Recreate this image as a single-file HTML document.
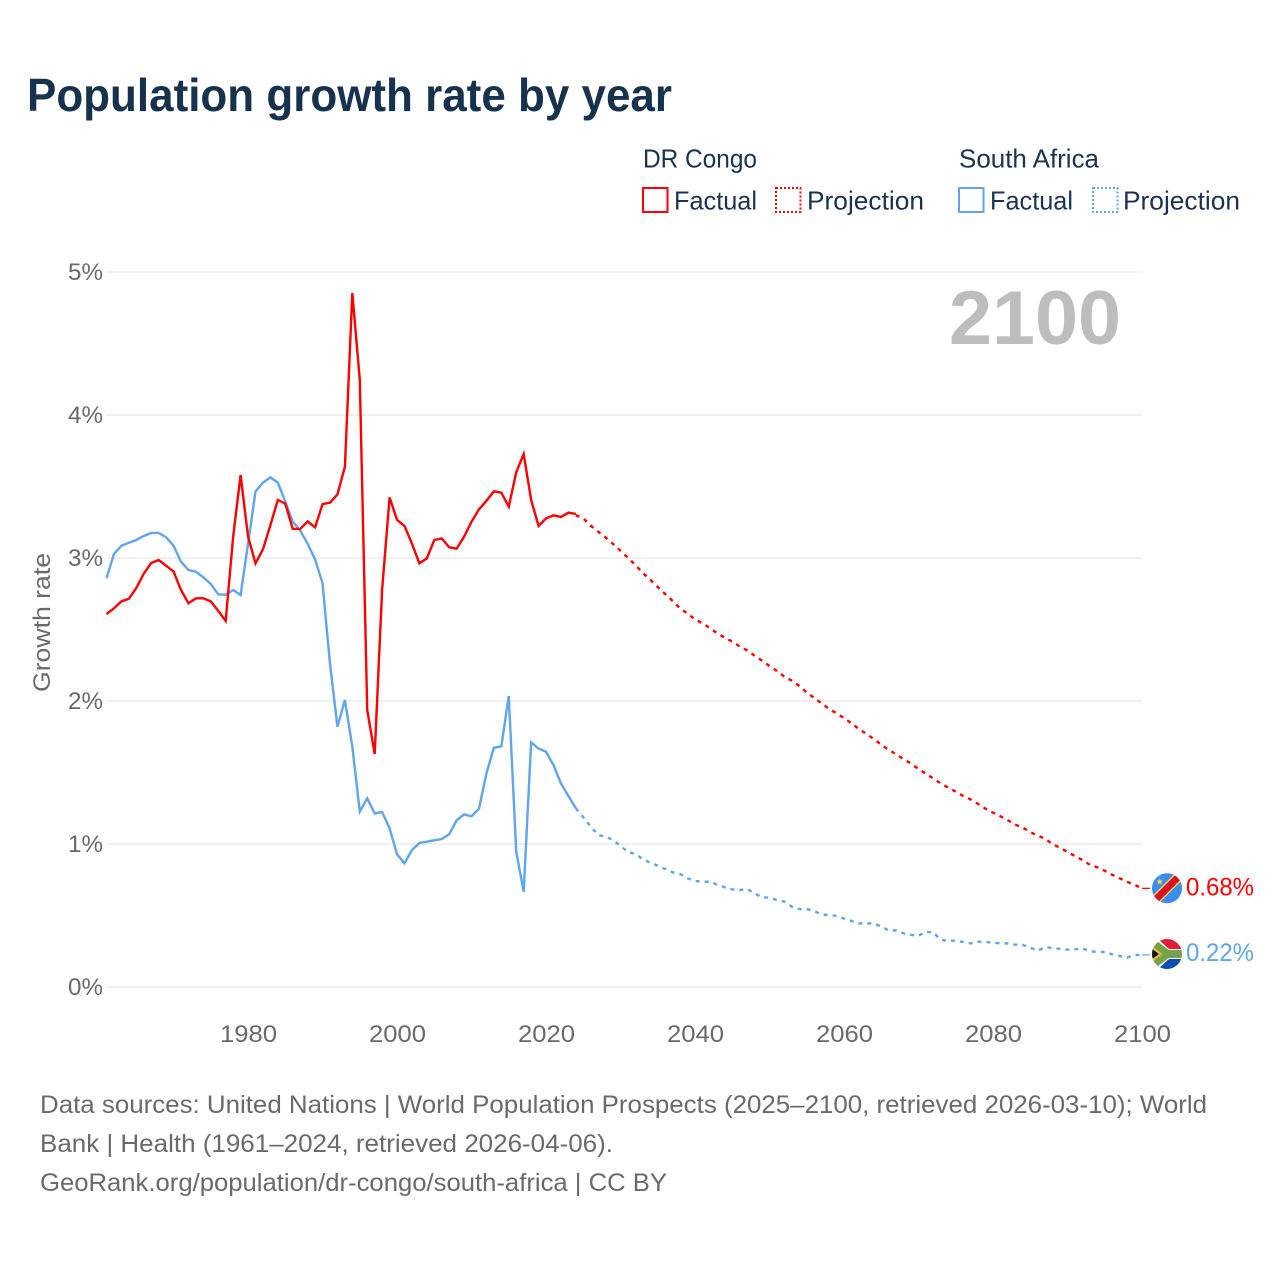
<!DOCTYPE html>
<html lang="en">
<head>
<meta charset="utf-8">
<title>Population growth rate by year</title>
<style>
  html, body { margin: 0; padding: 0; background: #fff; }
  svg { display: block; font-family: "Liberation Sans", sans-serif; }
</style>
</head>
<body>
<svg id="chart" xmlns="http://www.w3.org/2000/svg" width="1280" height="1280" viewBox="0 0 1280 1280">
  <defs>
    <clipPath id="flag-clip-drc"><circle cx="0" cy="0" r="15"/></clipPath>
    <clipPath id="flag-clip-za"><circle cx="0" cy="0" r="15"/></clipPath>
  </defs>
  <rect x="0" y="0" width="1280" height="1280" fill="#fff"/>

  <text x="27" y="111" font-size="46" font-weight="700" fill="#17324f" textLength="645" lengthAdjust="spacingAndGlyphs">Population growth rate by year</text>

  <g font-size="26" fill="#1a3353">
    <text x="643" y="167.5" textLength="114" lengthAdjust="spacingAndGlyphs">DR Congo</text>
    <text x="959" y="167.5" textLength="140" lengthAdjust="spacingAndGlyphs">South Africa</text>
    <g>
      <rect x="643" y="188" width="24.5" height="24" fill="none" stroke="#ff0000" stroke-width="2"/>
      <text x="674" y="209.5" textLength="83" lengthAdjust="spacingAndGlyphs">Factual</text>
    </g>
    <g>
      <rect x="776" y="188" width="24.5" height="24" fill="none" stroke="#ff0000" stroke-width="2" stroke-dasharray="2 2"/>
      <text x="807" y="209.5" textLength="117" lengthAdjust="spacingAndGlyphs">Projection</text>
    </g>
    <g>
      <rect x="959" y="188" width="24.5" height="24" fill="none" stroke="#5fa5ee" stroke-width="2"/>
      <text x="990" y="209.5" textLength="83" lengthAdjust="spacingAndGlyphs">Factual</text>
    </g>
    <g>
      <rect x="1093" y="188" width="24.5" height="24" fill="none" stroke="#5fa5ee" stroke-width="2" stroke-dasharray="2 2"/>
      <text x="1123" y="209.5" textLength="117" lengthAdjust="spacingAndGlyphs">Projection</text>
    </g>
  </g>

  <g id="grid"></g>
  <g id="y-ticks"></g>
  <g id="x-ticks"></g>

  <text transform="translate(50,692) rotate(-90)" font-size="24" fill="#6a6a6a" textLength="139" lengthAdjust="spacingAndGlyphs">Growth rate</text>

  <text x="949" y="344" font-size="76" font-weight="700" fill="#bdbdbd" textLength="172" lengthAdjust="spacingAndGlyphs">2100</text>

  <g id="series"></g>

  <g id="flag-drc">
    <g clip-path="url(#flag-clip-drc)">
      <rect x="-16" y="-16" width="32" height="32" fill="#3b8df2"/>
      <polygon points="-20,13 13,-20 20,-13 -13,20" fill="#f9d648"/>
      <polygon points="-20,15 15,-20 20,-15 -15,20" fill="#d9122b"/>
      <polygon points="-7.3,-10 -6.4,-7.6 -4,-7.6 -5.9,-6 -5.2,-3.6 -7.3,-5 -9.4,-3.6 -8.7,-6 -10.6,-7.6 -8.2,-7.6" fill="#f9d648"/>
    </g>
  </g>
  <g id="flag-za">
    <g clip-path="url(#flag-clip-za)">
      <rect x="-16" y="-16" width="32" height="16" fill="#e01b3c"/>
      <rect x="-16" y="0" width="32" height="16" fill="#0b4fb3"/>
      <polygon points="-16,-15 -9,-15 2,-5 16,-5 16,5 2,5 -9,15 -16,15" fill="#fff"/>
      <polygon points="-16,-13 -10,-13 1.5,-4 16,-4 16,4 1.5,4 -10,13 -16,13" fill="#76a34a"/>
      <polygon points="-16,-8.5 -4.5,0 -16,8.5" fill="#f7bd37"/>
      <polygon points="-16,-6 -8,0 -16,6" fill="#111"/>
    </g>
  </g>
  <text id="label-drc" x="1186" y="896" font-size="25" fill="#ff0000" textLength="68" lengthAdjust="spacingAndGlyphs"></text>
  <text id="label-za" x="1186" y="961" font-size="25" fill="#5fa5ee" textLength="68" lengthAdjust="spacingAndGlyphs"></text>

  <g font-size="25" fill="#6a6a6a">
    <text x="40" y="1113" textLength="1167" lengthAdjust="spacingAndGlyphs">Data sources: United Nations | World Population Prospects (2025–2100, retrieved 2026-03-10); World</text>
    <text x="40" y="1152" textLength="573" lengthAdjust="spacingAndGlyphs">Bank | Health (1961–2024, retrieved 2026-04-06).</text>
    <text x="40" y="1191" textLength="627" lengthAdjust="spacingAndGlyphs">GeoRank.org/population/dr-congo/south-africa | CC BY</text>
  </g>
</svg>

<script>
const factualStartYear = 1961;
const projectionStartYear = 2024;
const xTickYears = [1980, 2000, 2020, 2040, 2060, 2080, 2100];
const yTickValues = [0, 1, 2, 3, 4, 5];
const endValueDrc = 0.68;
const endValueZa = 0.22;

const drcFactual = [
  2.608,2.648,2.697,2.715,2.79,2.89,2.965,2.986,2.946,2.906,
  2.776,2.683,2.718,2.718,2.697,2.63,2.56,3.149,3.58,3.149,
  2.963,3.06,3.23,3.406,3.38,3.203,3.203,3.256,3.214,3.377,
  3.387,3.445,3.638,4.853,4.245,1.937,1.629,2.78,3.424,3.266,
  3.224,3.10,2.963,2.997,3.126,3.137,3.075,3.065,3.149,3.254,
  3.34,3.40,3.466,3.457,3.359,3.60,3.727,3.406,3.224,3.277,
  3.298,3.287,3.317,3.308
];
const drcProjection = [
  3.30,3.277,3.226,3.184,3.144,3.098,3.051,3.002,2.951,2.895,
  2.848,2.797,2.748,2.699,2.648,2.611,2.571,2.543,2.51,2.473,
  2.443,2.415,2.382,2.354,2.317,2.282,2.245,2.21,2.17,2.142,
  2.105,2.06,2.021,1.984,1.944,1.914,1.881,1.844,1.804,1.771,
  1.734,1.694,1.659,1.627,1.594,1.562,1.524,1.492,1.457,1.424,
  1.394,1.366,1.336,1.312,1.28,1.247,1.219,1.194,1.166,1.135,
  1.114,1.084,1.058,1.037,0.998,0.974,0.944,0.916,0.888,0.855,
  0.837,0.813,0.785,0.76,0.736,0.715,0.69
];
const zaFactual = [
  2.858,3.028,3.086,3.107,3.126,3.154,3.175,3.175,3.145,3.086,
  2.974,2.916,2.904,2.865,2.818,2.746,2.743,2.776,2.741,3.10,
  3.464,3.527,3.564,3.527,3.394,3.254,3.191,3.10,2.99,2.823,
  2.26,1.82,2.007,1.68,1.226,1.319,1.214,1.224,1.11,0.928,
  0.865,0.958,1.007,1.016,1.026,1.035,1.068,1.166,1.207,1.194,
  1.247,1.494,1.673,1.683,2.035,0.946,0.666,1.711,1.667,1.645,
  1.552,1.424,1.336,1.25
];
const zaProjection = [
  1.25,1.187,1.121,1.063,1.051,1.028,0.986,0.944,0.93,0.893,
  0.869,0.848,0.825,0.802,0.79,0.76,0.741,0.736,0.736,0.715,
  0.697,0.683,0.678,0.685,0.655,0.627,0.624,0.608,0.597,0.562,
  0.545,0.545,0.531,0.506,0.503,0.497,0.478,0.462,0.445,0.445,
  0.445,0.422,0.396,0.396,0.375,0.364,0.359,0.387,0.38,0.329,
  0.324,0.324,0.315,0.305,0.317,0.315,0.31,0.305,0.305,0.296,
  0.294,0.275,0.254,0.278,0.273,0.266,0.261,0.264,0.27,0.25,
  0.245,0.245,0.229,0.217,0.205,0.224,0.224
];

const SVG_NS = 'http://www.w3.org/2000/svg';
function xScale(year) { return 106.5 + (year - 1961) * (1142 - 106.5) / 139; }
function yScale(value) { return 987 - value * 143; }

function drawLine(values, startYear, color, dash, parent, name) {
  const line = document.createElementNS(SVG_NS, 'polyline');
  const pts = values.map(function (v, i) {
    return xScale(startYear + i).toFixed(2) + ',' + yScale(v).toFixed(2);
  });
  line.setAttribute('points', pts.join(' '));
  line.setAttribute('fill', 'none');
  line.setAttribute('stroke', color);
  line.setAttribute('stroke-width', '2.4');
  line.setAttribute('stroke-linejoin', 'miter');
  if (dash) line.setAttribute('stroke-dasharray', dash);
  
  
  parent.appendChild(line);
}

function drawLeader(value, color, parent, name) {
  const leader = document.createElementNS(SVG_NS, 'line');
  leader.setAttribute('x1', xScale(2100));
  leader.setAttribute('x2', xScale(2100) + 8);
  leader.setAttribute('y1', yScale(value));
  leader.setAttribute('y2', yScale(value));
  leader.setAttribute('stroke', color);
  leader.setAttribute('stroke-width', '1.2');
  
  
  parent.appendChild(leader);
}

const gridGroup = document.getElementById('grid');
const yTickGroup = document.getElementById('y-ticks');
const xTickGroup = document.getElementById('x-ticks');
const seriesGroup = document.getElementById('series');

yTickValues.forEach(function (v) {
  const gridLine = document.createElementNS(SVG_NS, 'line');
  gridLine.setAttribute('x1', xScale(1961));
  gridLine.setAttribute('x2', xScale(2100));
  gridLine.setAttribute('y1', yScale(v));
  gridLine.setAttribute('y2', yScale(v));
  gridLine.setAttribute('stroke', '#ececec');
  gridLine.setAttribute('stroke-width', '1.6');
  
  
  gridGroup.appendChild(gridLine);

  const label = document.createElementNS(SVG_NS, 'text');
  label.setAttribute('x', 103);
  label.setAttribute('y', yScale(v) + 8);
  label.setAttribute('text-anchor', 'end');
  label.setAttribute('font-size', '24');
  label.setAttribute('fill', '#6a6a6a');
  label.setAttribute('textLength', '35');
  label.setAttribute('lengthAdjust', 'spacingAndGlyphs');
  
  
  label.textContent = v + '%';
  yTickGroup.appendChild(label);
});

xTickYears.forEach(function (year) {
  const label = document.createElementNS(SVG_NS, 'text');
  label.setAttribute('x', xScale(year) + 0.5);
  label.setAttribute('y', 1042);
  label.setAttribute('text-anchor', 'middle');
  label.setAttribute('font-size', '24');
  label.setAttribute('fill', '#6a6a6a');
  label.setAttribute('textLength', '57');
  label.setAttribute('lengthAdjust', 'spacingAndGlyphs');
  
  
  label.textContent = year;
  xTickGroup.appendChild(label);
});

drawLine(zaFactual, factualStartYear, '#5fa5ee', null, seriesGroup, 'line-south-africa-factual');
drawLine(zaProjection, projectionStartYear, '#5fa5ee', '4 5', seriesGroup, 'line-south-africa-projection');
drawLine(drcFactual, factualStartYear, '#ff0000', null, seriesGroup, 'line-dr-congo-factual');
drawLine(drcProjection, projectionStartYear, '#ff0000', '4 5', seriesGroup, 'line-dr-congo-projection');
drawLeader(drcProjection[drcProjection.length - 1], '#ff0000', seriesGroup, 'leader-dr-congo');
drawLeader(zaProjection[zaProjection.length - 1], '#5fa5ee', seriesGroup, 'leader-south-africa');

const drcFlagY = yScale(endValueDrc) - 1.5;
const zaFlagY = yScale(endValueZa) - 1.5;
document.getElementById('flag-drc').setAttribute('transform', 'translate(1167,' + drcFlagY + ')');
document.getElementById('flag-za').setAttribute('transform', 'translate(1167,' + zaFlagY + ')');
const labelDrc = document.getElementById('label-drc');
const labelZa = document.getElementById('label-za');
labelDrc.textContent = endValueDrc.toFixed(2) + '%';
labelZa.textContent = endValueZa.toFixed(2) + '%';
labelDrc.setAttribute('y', drcFlagY + 7);
labelZa.setAttribute('y', zaFlagY + 7);
</script>
</body>
</html>
